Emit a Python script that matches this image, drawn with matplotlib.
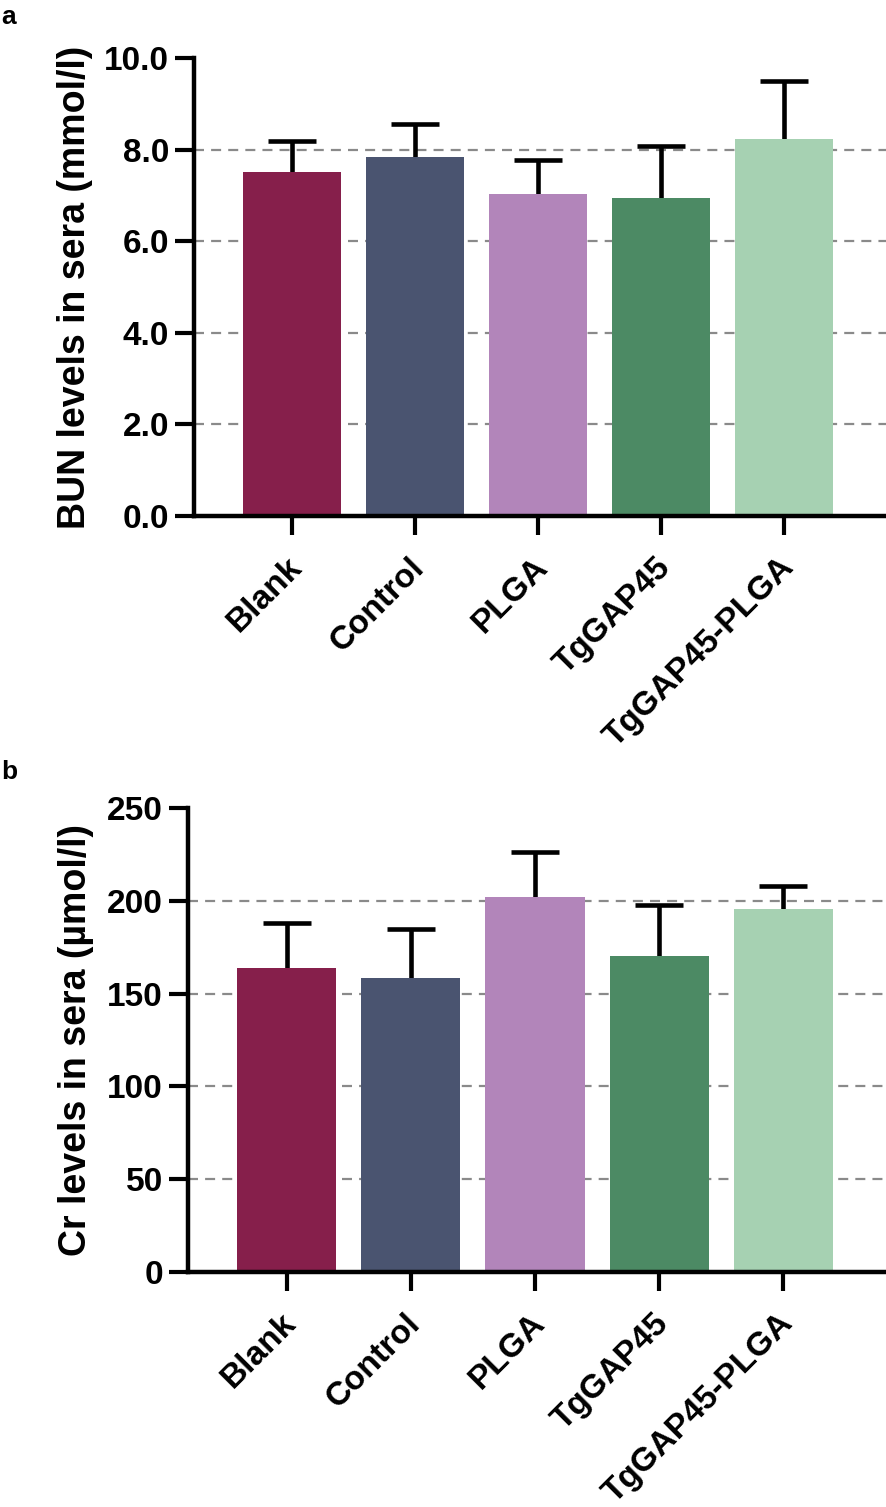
import matplotlib
matplotlib.use("Agg")
import matplotlib.pyplot as plt
import matplotlib.transforms as mtransforms
import numpy as np

plt.rcParams['font.family'] = ['Liberation Sans', 'DejaVu Sans']
plt.rcParams['font.weight'] = 'bold'

groups = ["Blank", "Control", "PLGA", "TgGAP45", "TgGAP45-PLGA"]
colors = ["#861F4B", "#4A5470", "#B285BA", "#4C8A64", "#A6D1B2"]

bun_mean = [7.51, 7.83, 7.02, 6.95, 8.23]
bun_sd = [0.67, 0.73, 0.76, 1.13, 1.26]
bun_ticks = [0, 2, 4, 6, 8, 10]
bun_ticklabels = ["0.0", "2.0", "4.0", "6.0", "8.0", "10.0"]

cr_mean = [163.7, 158.5, 202.3, 170.4, 195.7]
cr_sd = [24.4, 26.5, 24.2, 27.4, 12.2]
cr_ticks = [0, 50, 100, 150, 200, 250]
cr_ticklabels = ["0", "50", "100", "150", "200", "250"]

W, H = 886, 1507
fig = plt.figure(figsize=(W / 100, H / 100), dpi=100)


def panel(rect, means, sds, ticks, ticklabels, ylabel, xlim, label, label_xy, ylab_x_px):
    ax = fig.add_axes(rect)
    x = np.arange(len(groups))
    for t in ticks[1:-1]:
        ax.axhline(t, color="#8a8a8a", lw=1.6, ls=(0, (4.5, 3.2)), zorder=0)
    ax.bar(x, means, width=0.8, color=colors, edgecolor='none', zorder=2)
    eb = ax.errorbar(x, means, yerr=[np.zeros(len(means)), sds], fmt='none',
                     ecolor='black', elinewidth=3.3, capsize=17, capthick=3.3, zorder=1)
    caps = eb[1]
    if len(caps) >= 2:
        caps[0].set_visible(False)
    ax.set_xlim(*xlim)
    ax.set_ylim(ticks[0], ticks[-1])
    ax.set_yticks(ticks)
    ax.set_yticklabels(ticklabels, fontsize=24, fontweight='bold')
    ax.set_xticks(x)
    ax.set_xticklabels(groups, fontsize=24, fontweight='bold', rotation=45,
                       ha='right', va='center', rotation_mode='anchor')
    ax.tick_params(axis='both', width=3, length=13.5, color='black')
    ax.tick_params(axis='y', pad=4.5)
    ax.tick_params(axis='x', pad=20)
    offset = mtransforms.ScaledTranslation(5 / 100, 0, fig.dpi_scale_trans)
    for lab in ax.get_xticklabels():
        lab.set_transform(lab.get_transform() + offset)
    for s in ['top', 'right']:
        ax.spines[s].set_visible(False)
    for s in ['left', 'bottom']:
        ax.spines[s].set_linewidth(3.2)
    ax.set_ylabel(ylabel, fontsize=27, fontweight='bold', va='center', ha='center')
    left_px = rect[0] * W
    width_px = rect[2] * W
    ax.yaxis.set_label_coords((ylab_x_px - left_px) / width_px, 0.5)
    fig.text(label_xy[0], label_xy[1], label, fontsize=19, fontweight='bold',
             ha='left', va='center')
    return ax


top_rect = [194 / W, 1 - 516 / H, (W - 194) / W, (516 - 58) / H]
bot_rect = [188 / W, 1 - 1272 / H, (W - 188) / W, (1272 - 808) / H]

ax1 = panel(top_rect, bun_mean, bun_sd, bun_ticks, bun_ticklabels,
            "BUN levels in sera (mmol/l)", (-0.797, 4.829), "a", (1 / W, 1 - 17 / H), 75)
ax2 = panel(bot_rect, cr_mean, cr_sd, cr_ticks, cr_ticklabels,
            "Cr levels in sera (µmol/l)", (-0.793, 4.825), "b", (1 / W, 1 - 772 / H), 76)

fig.savefig("out.png", dpi=100)
